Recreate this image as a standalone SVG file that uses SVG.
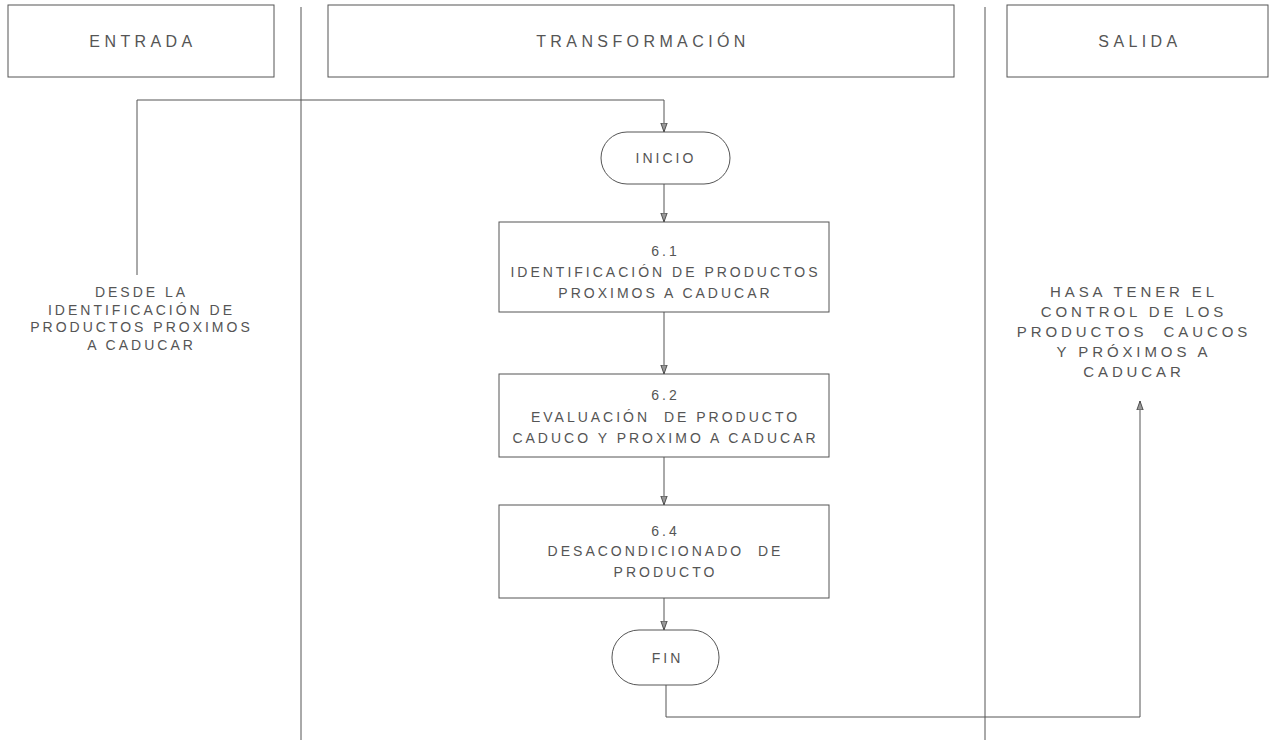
<svg xmlns="http://www.w3.org/2000/svg" width="1272" height="740" viewBox="0 0 1272 740">
<defs>
<marker id="arr" viewBox="0 0 10 10" refX="10" refY="5" markerWidth="9" markerHeight="9" orient="auto" markerUnits="userSpaceOnUse"><path d="M0,1.5 L10,5 L0,8.5 Z" fill="#999" stroke="#444" stroke-width="1"/></marker>
</defs>
<style>
.box{fill:#fff;stroke:#555;stroke-width:1}
.ln{stroke:#555;stroke-width:1;fill:none}
.t{font-family:"Liberation Sans",Arial,sans-serif;font-size:14px;fill:#555;text-anchor:middle;letter-spacing:3px;white-space:pre}
.h{font-size:16px;letter-spacing:4.4px}
.r{font-size:15px;letter-spacing:3.9px}
</style>
<rect width="1272" height="740" fill="#fff"/>
<g id="dividers">
<line class="ln" x1="301" y1="7" x2="301" y2="740"/>
<line class="ln" x1="985" y1="7" x2="985" y2="740"/>
</g>
<g id="hdr-entrada"><rect class="box" x="8" y="5" width="266" height="72"/><text class="t h" x="143" y="47">ENTRADA</text></g>
<g id="hdr-transformacion"><rect class="box" x="328" y="5" width="626" height="72"/><text class="t h" x="643" y="47">TRANSFORMACIÓN</text></g>
<g id="hdr-salida"><rect class="box" x="1007" y="5" width="261" height="72"/><text class="t h" x="1140" y="47">SALIDA</text></g>
<g id="connectors">
<path class="ln" d="M137,275 V100 H664 V132" marker-end="url(#arr)"/>
<path class="ln" d="M664,184 V222" marker-end="url(#arr)"/>
<path class="ln" d="M664,312 V374" marker-end="url(#arr)"/>
<path class="ln" d="M664,457 V505" marker-end="url(#arr)"/>
<path class="ln" d="M664,598 V630" marker-end="url(#arr)"/>
<path class="ln" d="M666,685 V717 H1140 V401" marker-end="url(#arr)"/>
</g>
<g id="inicio"><rect class="box" x="601" y="132" width="129" height="52" rx="26"/><text class="t" x="666" y="163">INICIO</text></g>
<g id="n61"><rect class="box" x="499" y="222" width="330" height="90"/>
<text class="t" x="665.5" y="256">6.1</text>
<text class="t" x="665.5" y="277">IDENTIFICACIÓN DE PRODUCTOS</text>
<text class="t" x="665.5" y="298">PROXIMOS A CADUCAR</text></g>
<g id="n62"><rect class="box" x="499" y="374" width="330" height="83"/>
<text class="t" x="665.5" y="400">6.2</text>
<text class="t" x="665.5" y="422">EVALUACIÓN  DE PRODUCTO</text>
<text class="t" x="665.5" y="443">CADUCO Y PROXIMO A CADUCAR</text></g>
<g id="n64"><rect class="box" x="499" y="505" width="330" height="93"/>
<text class="t" x="665.5" y="536">6.4</text>
<text class="t" x="665.5" y="556">DESACONDICIONADO  DE</text>
<text class="t" x="665.5" y="577">PRODUCTO</text></g>
<g id="fin"><rect class="box" x="612" y="630" width="107" height="55" rx="27"/><text class="t" x="667.5" y="663">FIN</text></g>
<g id="entrada-text">
<text class="t" x="141.5" y="297">DESDE LA</text>
<text class="t" x="141.5" y="315">IDENTIFICACIÓN DE</text>
<text class="t" x="141.5" y="332">PRODUCTOS PROXIMOS</text>
<text class="t" x="141.5" y="350">A CADUCAR</text>
</g>
<g id="salida-text">
<text class="t r" x="1134" y="297">HASA TENER EL</text>
<text class="t r" x="1134" y="317">CONTROL DE LOS</text>
<text class="t r" x="1134" y="337">PRODUCTOS  CAUCOS</text>
<text class="t r" x="1134" y="357">Y PRÓXIMOS A</text>
<text class="t r" x="1134" y="377">CADUCAR</text>
</g>
</svg>
